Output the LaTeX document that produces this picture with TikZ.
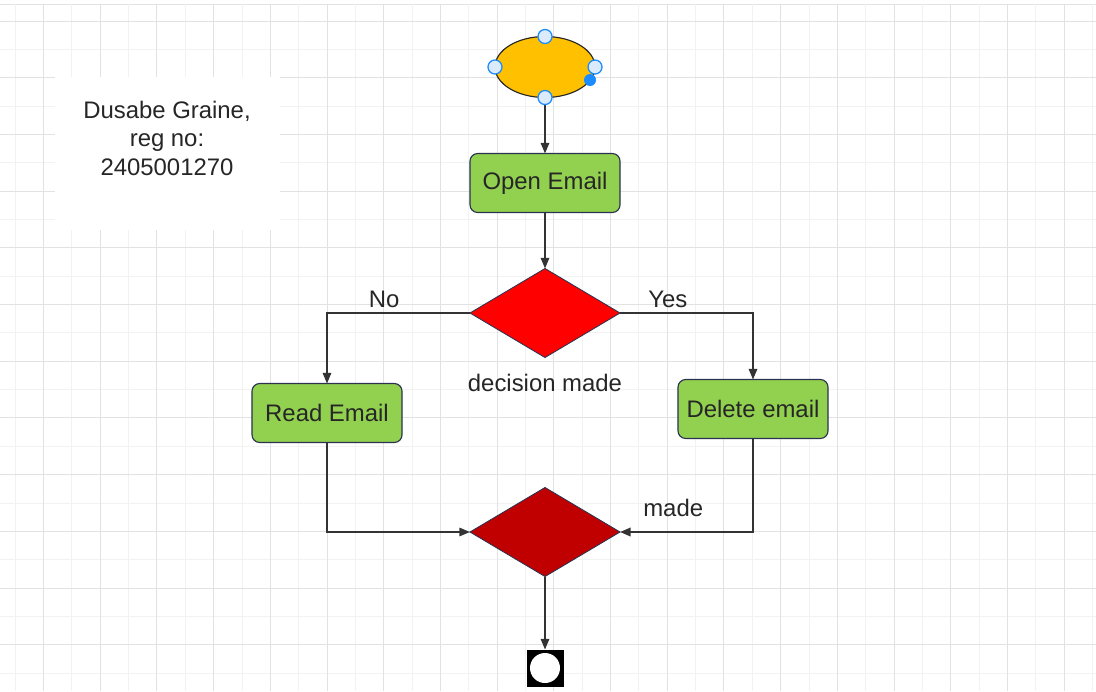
\documentclass[tikz,border=0pt]{standalone}
\usepackage{fontspec}
\setmainfont{Liberation Sans}
\usetikzlibrary{arrows.meta,shapes.geometric}

\definecolor{boxgreen}{HTML}{92D050}
\definecolor{startorange}{HTML}{FFC000}
\definecolor{mergered}{HTML}{C00000}
\definecolor{edge}{HTML}{2B3350}
\definecolor{linegray}{HTML}{333333}
\definecolor{handleblue}{HTML}{1A8CFF}
\definecolor{handlefill}{HTML}{DCEBFC}
\definecolor{gridminor}{HTML}{F2F2F2}
\definecolor{gridmajor}{HTML}{E2E2E2}

\begin{document}
\begin{tikzpicture}[
  x=0.025cm, y=-0.025cm,
  lbl/.style={font=\fontsize{17}{20.3}\selectfont, text=black!85},
  proc/.style={draw=edge, fill=boxgreen, rounded corners=5.5pt, line width=0.8pt,
               minimum width=3.75cm, minimum height=1.475cm, outer sep=0pt, lbl},
  choice/.style={diamond, draw=edge, line width=0.6pt, minimum width=3.75cm,
                 minimum height=2.225cm, inner sep=0pt, outer sep=0pt},
  handle/.style={circle, draw=handleblue, fill=handlefill, line width=0.9pt,
                 minimum size=0.35cm, inner sep=0pt},
  flow/.style={->, draw=linegray, line width=1pt},
  >={Triangle[length=7.5pt,width=6pt]}
]
  \useasboundingbox (0,0) rectangle (1096,691);
  \fill[white] (0,0) rectangle (1096,691);

  % grid
  \draw[gridmajor, line width=0.6pt] (0,4) -- (1096,4);
  \foreach \i in {0,...,38}
    \draw[gridminor, line width=0.6pt] ({15.15+28.35*\i},4) -- ({15.15+28.35*\i},691);
  \foreach \i in {0,...,23}
    \draw[gridminor, line width=0.6pt] (0,{21+28.35*\i}) -- (1096,{21+28.35*\i});
  \foreach \i in {0,...,18}
    \draw[gridmajor, line width=0.6pt] ({43.5+56.7*\i},4) -- ({43.5+56.7*\i},691);
  \foreach \i in {0,...,11}
    \draw[gridmajor, line width=0.6pt] (0,{21+56.7*\i}) -- (1096,{21+56.7*\i});

  % name card
  \fill[white] (55,77) rectangle (280,230);
  \node[lbl, align=center] (card) at (167,138) {Dusabe Graine,\\reg no:\\2405001270};

  % flow nodes
  \node[ellipse, draw=black!85, fill=startorange, line width=0.8pt,
        minimum width=2.5cm, minimum height=1.525cm, outer sep=0pt] (start) at (545,67) {};
  \node[proc] (open) at (545,183) {Open Email};
  \node[choice, fill=red] (decide) at (545,313) {};
  \node[lbl] (declbl) at (545,383) {decision made};
  \node[proc] (read) at (327,413) {Read Email};
  \node[proc] (delete) at (753,409) {Delete email};
  \node[choice, fill=mergered] (merge) at (545,532) {};
  \node[fill=black, minimum size=0.925cm, inner sep=0pt, outer sep=0pt] (stop) at (545,668) {};
  \fill[white] (stop.center) circle[radius=0.375cm];

  % connectors
  \draw[flow] (start.south) -- (open.north);
  \draw[flow] (open.south) -- (decide.north);
  \draw[flow] (decide.west) -| node[lbl, pos=0.3, above] {No} (read.north);
  \draw[flow] (decide.east) -| node[lbl, pos=0.18, above] {Yes} (delete.north);
  \draw[flow] (read.south) |- (merge.west);
  \draw[flow, line width=1.4pt] (delete.south) |- node[lbl, pos=0.8, above=7pt] {made} (merge.east);
  \draw[flow] (merge.south) -- (stop.north);

  % selection handles
  \node[handle] (hn) at (start.north) {};
  \node[handle] (hw) at (start.west) {};
  \node[handle] (he) at (start.east) {};
  \node[handle] (hs) at (start.south) {};
  \fill[handleblue] (590,80) circle[radius=0.15cm];
\end{tikzpicture}
\end{document}
